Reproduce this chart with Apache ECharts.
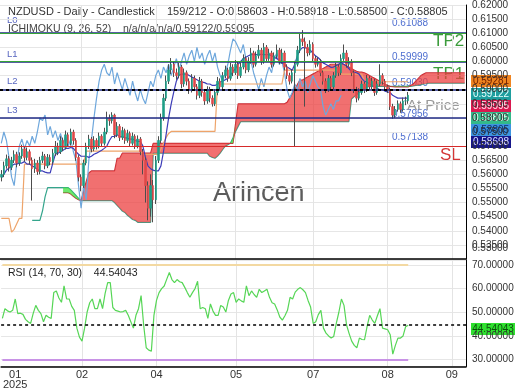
<!DOCTYPE html>
<html><head><meta charset="utf-8">
<script src="https://cdn.jsdelivr.net/npm/echarts@6/dist/echarts.min.js"></script>
<style>html,body{margin:0;padding:0;background:#fff}#c{width:520px;height:390px}</style>
</head><body><div id="c"></div>
<script>
// ---------- DATA (prices in pips: value / 10000) ----------
const SLOTS = 181; // 159 candles + 22 future slots for the shifted cloud
const tickSlots = [5, 31, 60, 91, 121, 150, 175];
const tickLabels = ['01', '02', '04', '05', '07', '08', '09'];
const gridSlots = [31, 60, 91, 121, 150, 175];
const firstOpen = 5590;
const closes = [5600,5630,5655,5625,5650,5670,5640,5665,5690,5660,
5680,5650,5620,5640,5610,5650,5665,5630,5660,5645,
5675,5700,5680,5720,5695,5740,5710,5750,5720,5660,
5590,5560,5640,5700,5725,5690,5720,5700,5735,5710,
5750,5800,5790,5810,5740,5770,5730,5755,5720,5745,
5710,5735,5700,5725,5680,5650,5560,5480,5560,5510,
5650,5720,5800,5870,5930,5970,5990,5960,5950,5980,
5920,5960,5930,5900,5940,5910,5880,5930,5890,5860,
5900,5870,5850,5890,5930,5910,5950,5970,5940,5980,
5960,5990,5950,5980,6010,5970,6000,6030,5990,6020,
6040,6000,6050,6010,6030,5990,6020,6040,6000,6030,
5980,5950,5930,5960,5990,6040,6080,6070,6050,6030,
6060,6010,5990,6000,5960,5930,5900,5940,5910,5950,
5980,5960,6010,6030,5990,6000,5960,5900,5870,5890,
5920,5900,5940,5910,5930,5890,5920,5950,5930,5910,
5900,5840,5810,5830,5850,5830,5860,5860.3,5880.5];
const highs = [5615,5645,5670,5665,5662,5685,5680,5678,5705,5698,
5695,5688,5660,5655,5650,5662,5680,5672,5672,5670,
5690,5718,5712,5735,5730,5755,5748,5762,5758,5728,
5668,5600,5652,5712,5740,5732,5735,5728,5748,5742,
5765,5822,5812,5820,5815,5785,5778,5768,5762,5758,
5752,5748,5742,5738,5732,5690,5660,5575,5600,5580,
5665,5735,5815,5885,5950,5990,6012,6000,5975,5995,
5988,5975,5968,5940,5955,5950,5920,5945,5938,5900,
5912,5910,5880,5902,5945,5940,5962,5985,5978,5995,
5990,6005,5998,5995,6025,6018,6015,6048,6038,6035,
6058,6048,6065,6058,6045,6038,6032,6060,6048,6045,
6038,5990,5960,5972,6002,6055,6098,6111,6085,6062,
6075,6068,6020,6015,6008,5968,5940,5952,5948,5962,
5995,5990,6025,6060,6040,6015,6008,5968,5910,5905,
5932,5928,5952,5948,5942,5938,5932,5990,5958,5938,
5918,5908,5850,5842,5862,5858,5872,5875,5891.8];
const lows = [5575,5590,5620,5610,5615,5640,5625,5630,5655,5645,
5650,5635,5507,5605,5598,5600,5640,5618,5622,5632,
5638,5665,5668,5672,5682,5688,5700,5702,5705,5648,
5575,5540,5552,5632,5690,5678,5682,5688,5692,5698,
5702,5742,5772,5780,5728,5732,5718,5722,5708,5712,
5698,5702,5690,5692,5668,5600,5500,5437,5450,5430,
5495,5640,5710,5790,5860,5920,5955,5945,5935,5940,
5905,5910,5915,5885,5890,5895,5865,5870,5875,5846,
5850,5855,5840,5842,5880,5898,5902,5940,5928,5932,
5948,5952,5938,5942,5972,5958,5962,5992,5978,5982,
6010,5988,5992,5998,6002,5978,5982,6012,5990,5992,
5968,5938,5918,5922,5699,5982,6030,6055,5840,6018,
6022,5998,5978,5982,5948,5918,5888,5892,5898,5902,
5942,5948,5952,6002,5978,5982,5948,5888,5855,5862,
5882,5888,5892,5898,5902,5878,5882,5912,5918,5898,
5888,5828,5797,5800,5822,5818,5822,5845,5850];
const tenkan = [5587,5600,5615,5622,5630,5636,5636,5640,5640,5645,
5636,5636,5630,5625,5618,5612,5612,5608,5605,5605,
5640,5671,5675,5680,5685,5692,5692,5695,5692,5680,
5671,5664,5664,5664,5660,5664,5671,5675,5680,5685,
5692,5700,5720,5734,5734,5740,5734,5734,5730,5728,
5725,5725,5720,5717,5717,5700,5660,5629,5620,5615,
5612,5612,5630,5680,5740,5800,5850,5892,5930,5951,
5955,5955,5955,5950,5945,5940,5935,5930,5927,5925,
5920,5920,5915,5915,5920,5927,5930,5935,5940,5950,
5965,5975,5990,6000,6010,6015,6020,6024,6024,6024,
6025,6025,6024,6024,6024,6020,6015,6010,6005,5995,
5990,5980,5975,5969,5990,6020,6040,6049,6049,6045,
6040,6030,6020,6014,6005,5995,5990,5985,5979,5980,
5985,5990,5995,5990,5985,5975,5965,5962,5960,5955,
5940,5930,5927,5920,5915,5910,5905,5900,5900,5895,
5892,5890,5880,5875,5870,5870,5870,5870,5869.8];
const kijun = [5444,5444,5444,5444,5395,5405,5425,5444,5444,5636,
5636,5636,5636,5636,5636,5636,5636,5636,5636,5636,
5636,5636,5636,5636,5636,5636,5636,5636,5636,5636,
5636,5636,5636,5682,5682,5682,5682,5682,5682,5682,
5682,5682,5682,5682,5682,5682,5682,5682,5682,5682,
5682,5682,5682,5682,5682,5671,5671,5671,5671,5671,
5671,5671,5690,5710,5730,5745,5752,5752,5752,5752,
5752,5752,5752,5752,5752,5752,5752,5752,5752,5752,
5752,5752,5752,5752,5920,5920,5920,5920,5920,5920,
5920,5920,5920,5920,5920,5920,5920,5920,5920,5920,
5920,5920,5920,5920,5920,5920,5920,5920,5920,5920,
5969,5969,5969,5969,5969,5969,5969,5969,5969,5969,
5969,5969,5969,5969,5969,5969,5969,5969,5969,5969,
5969,5969,5955,5955,5955,5955,5955,5955,5955,5955,
5955,5928,5928,5928,5928,5928,5928,5928,5928,5928,
5928,5928,5928,5928,5928,5928,5928,5928,5928.1];
const spanA = [null,null,null,null,null,null,null,null,null,null,
null,null,5437,5437,5437,5437,5470,5520,5553,5553,
5553,5553,5553,5553,5553,5553,5553,5545,5535,5525,
5515,5507,5507,5507,5507,5507,5507,5507,5507,5507,
5507,5507,5507,5507,5500,5490,5480,5470,5465,5455,
5448,5440,5437,5430,5430,5430,5430,5430,5430,5675,
5675,5675,5675,5675,5675,5675,5675,5675,5675,5675,
5675,5675,5675,5675,5675,5675,5675,5675,5675,5675,
5675,5664,5660,5657,5665,5675,5688,5700,5705,5710,
5730,5752,5770,5787,5787,5787,5787,5787,5787,5787,
5787,5787,5787,5787,5787,5787,5787,5787,5787,5787,
5787,5787,5787,5787,5787,5787,5787,5787,5787,5787,
5787,5787,5787,5787,5787,5787,5787,5787,5787,5787,
5787,5787,5787,5787,5787,5787,5867,5875,5882,5890,
5897,5903,5909,5912,5912,5912,5912,5912,5912,5912,
5912,5912,5912,5912,5912,5912,5912,5912,5912.2,5912,
5913,5915,5916,5918,5920,5921,5923,5923,5923,5923,
5923,5923,5923,5923,5923,5923,5923,5923,5923,5923,
5923];
const spanB = [null,null,null,null,null,null,null,null,null,null,
null,null,null,null,null,null,null,null,null,null,
null,null,null,null,5535,5535,5535,5530,5522,5515,
5510,5507,5540,5575,5605,5612,5612,5612,5612,5612,
5612,5612,5612,5612,5612,5657,5657,5675,5675,5675,
5675,5675,5675,5675,5675,5675,5675,5675,5675,5710,
5710,5710,5710,5710,5710,5710,5710,5710,5710,5710,
5710,5710,5710,5710,5710,5710,5710,5710,5710,5710,
5710,5710,5710,5710,5710,5710,5710,5710,5710,5710,
5710,5780,5850,5850,5850,5850,5850,5850,5850,5850,
5850,5850,5850,5850,5850,5850,5850,5850,5850,5850,
5850,5855,5870,5885,5900,5918,5934,5934,5940,5945,
5950,5955,5960,5965,5970,5975,5980,5985,5990,5990,
5990,5990,5990,5990,5985,5980,5975,5970,5965,5962,
5962,5960,5955,5950,5945,5940,5935,5930,5925,5920,
5915,5912,5911,5910,5910,5910,5910,5910,5909.5,5915,
5920,5930,5940,5950,5955,5960,5960,5960,5960,5960,
5960,5960,5960,5960,5960,5960,5960,5960,5960,5960,
5960];
const rsi = [47.4,51.5,50.6,50.1,50.8,55.6,49.4,49.6,49.1,47.0,
46.0,45.3,49.5,52.9,50.8,49.4,46.0,48.7,47.9,47.4,
58.3,59.0,56.0,54.2,61.1,55.6,55.6,52.5,50.8,43.3,
39.5,37.8,43.3,50.1,54.0,55.6,51.5,51.5,55.6,51.5,
58.0,62.5,62.5,52.0,50.8,50.5,50.1,50.3,50.8,48.7,
46.0,43.3,48.7,51.5,57.0,44.6,35.0,34.0,33.6,48.7,
55.0,58.3,60.0,61.1,64.0,66.8,63.8,62.5,63.8,62.9,
62.5,60.5,58.3,56.3,58.3,60.0,63.1,51.5,52.0,51.5,
47.4,53.5,50.5,48.7,48.7,52.9,52.2,50.1,55.0,57.7,
58.3,54.2,55.6,54.8,54.2,61.1,57.0,59.0,57.5,56.3,
59.7,58.3,59.0,59.7,56.3,54.0,53.5,51.0,48.0,46.7,
48.5,50.8,56.3,55.6,58.5,59.7,60.4,59.5,58.3,55.0,
52.2,45.3,46.0,49.0,50.8,43.3,41.2,40.0,39.1,39.8,
45.3,50.0,55.6,52.9,44.6,41.0,37.8,36.0,35.0,39.1,
38.5,38.4,44.0,48.7,46.7,45.3,48.5,51.5,43.3,43.0,
42.6,40.5,32.3,36.0,39.1,39.1,40.0,43.9,44.54043];
const chikouShift = 26;
const levelNames = ['L0', 'L1', 'L2', 'L3'];
const levelValues = [0.61088, 0.59999, 0.5903, 0.57956];
const tpValues = [0.6106, 0.5996];
const slValue = 0.57138;
const tagValues = [0.59281, 0.59122, 0.59095, 0.58805, 0.58805, 0.58698];
const rsiBounds = [70, 30];
const rsiLast = 44.54043;

// ---------- BUILD ----------
const P = v => (v == null ? null : v / 10000);
const N = closes.length;
const cats = []; for (let i = 0; i < SLOTS; i++) cats.push('s' + i);
const tickSet = new Set(tickSlots);
const gridSet = new Set(gridSlots);
const wickData = [], bodyData = [];
for (let i = 0; i < N; i++) {
  const o = i === 0 ? firstOpen : closes[i - 1], c = closes[i];
  wickData.push([P(o), P(c), P(lows[i]), P(highs[i])]);
  bodyData.push([P(o), P(c), P(Math.min(o, c)), P(Math.max(o, c))]);
}
const chikou = [];
for (let i = 0; i < SLOTS; i++) chikou.push(i + chikouShift < N ? P(closes[i + chikouShift]) : null);
const base = [], red = [], green = [];
for (let i = 0; i < SLOTS; i++) {
  const a = spanA[i], b = spanB[i];
  if (a == null || b == null) { base.push(null); red.push(null); green.push(null); continue; }
  base.push(P(Math.min(a, b)));
  red.push(P(Math.max(b - a, 0)));
  green.push(P(Math.max(a - b, 0)));
}
const FONT = 'Liberation Sans, Arial, sans-serif';
const navy = '#1f2a84';
const hl = (v, color, width, type) => ({ yAxis: v, lineStyle: { color: color, width: width, type: type || 'solid' } });
const mainLines = [];
levelValues.forEach(v => mainLines.push(hl(v, navy, 1.5)));
tpValues.forEach(v => mainLines.push(hl(v, '#36a336', 1)));
mainLines.push(hl(slValue, '#d62a2a', 1.2));
tagValues.forEach(v => mainLines.push(hl(v, '#000', 2, [3, 3])));

const lineS = (name, data, color, w, z) => ({
  name, type: 'line', xAxisIndex: 0, yAxisIndex: 0, data, symbol: 'none', z: z || 3,
  lineStyle: { color, width: w }, silent: true
});

const option = {
  animation: false,
  backgroundColor: '#fff',
  grid: [
    { left: 0, right: 54, top: 3, height: 256 },
    { left: 0, right: 54, top: 260, height: 109 }
  ],
  xAxis: [0, 1].map(g => ({
    type: 'category', gridIndex: g, data: cats, boundaryGap: true,
    axisLine: { show: true, lineStyle: { color: '#000', width: 1.5 } },
    axisTick: { show: false },
    axisLabel: g === 0 ? { show: false } : {
      show: true, interval: (idx) => tickSet.has(idx), color: '#333', fontSize: 11, fontFamily: FONT,
      margin: 3, lineHeight: 10,
      formatter: (v, idx) => { const k = tickSlots.indexOf(idx); if (k < 0) return ''; return k === 0 ? tickLabels[k] + '\n2025' : tickLabels[k]; }
    },
    splitLine: { show: true, interval: (idx) => gridSet.has(idx), alignWithLabel: true, lineStyle: { color: '#e4e4e4', width: 1 } }
  })),
  yAxis: [
    { type: 'value', gridIndex: 0, position: 'right', min: 0.53, max: 0.62, interval: 0.005, scale: true,
      axisLine: { show: true, lineStyle: { color: '#000', width: 1 } }, axisTick: { show: false },
      axisLabel: { color: '#333', fontSize: 10, fontFamily: FONT, margin: 6, showMinLabel: false, formatter: v => v.toFixed(5) },
      splitLine: { lineStyle: { color: '#e6e6e6' } } },
    { type: 'value', gridIndex: 1, position: 'right', min: 27.1, max: 72.06, splitNumber: 5,
      axisLine: { show: true, lineStyle: { color: '#000', width: 1 } }, axisTick: { show: false },
      axisLabel: { color: '#333', fontSize: 10, fontFamily: FONT, margin: 6, showMinLabel: false, showMaxLabel: false, formatter: v => v.toFixed(5) },
      splitLine: { lineStyle: { color: '#e6e6e6' } } }
  ],
  series: [
    lineS('Senkou A', spanA.map(P), '#34a58c', 1.2, 1),
    lineS('Senkou B', spanB.map(P), '#c0303a', 1.2, 1),
    { name: 'cloudBase', type: 'line', data: base, stack: 'cloud', symbol: 'none', lineStyle: { opacity: 0 }, z: 2, silent: true },
    { name: 'cloudRed', type: 'line', data: red, stack: 'cloud', symbol: 'none', lineStyle: { opacity: 0 }, z: 2, silent: true,
      areaStyle: { color: 'rgba(236,62,62,0.74)', opacity: 1 } },
    { name: 'cloudGreen', type: 'line', data: green, stack: 'cloud', symbol: 'none', lineStyle: { opacity: 0 }, z: 2, silent: true,
      areaStyle: { color: 'rgba(70,226,70,0.78)', opacity: 1 } },
    lineS('Chikou', chikou, '#6ea7dc', 1.2, 3),
    lineS('Kijun', kijun.map(P), '#eea46a', 1.2, 3),
    lineS('Tenkan', tenkan.map(P), '#3c3cb8', 1.2, 4),
    { name: 'wicks', type: 'candlestick', data: wickData, barWidth: 1, z: 5, silent: true,
      itemStyle: { color: '#4d4d4d', color0: '#4d4d4d', borderColor: '#4d4d4d', borderColor0: '#4d4d4d', borderWidth: 1 } },
    { name: 'bodies', type: 'candlestick', data: bodyData, barWidth: 2, z: 6, silent: true,
      itemStyle: { color: '#1f9e86', color0: '#e04848', borderColor: '#1f9e86', borderColor0: '#e04848', borderWidth: 0.6 },
      markLine: { silent: true, symbol: ['none', 'none'], label: { show: false }, animation: false, z: 7, data: mainLines } },
    { name: 'RSI', type: 'line', xAxisIndex: 1, yAxisIndex: 1, data: rsi, symbol: 'none', z: 4, silent: true,
      lineStyle: { color: '#56d656', width: 1.2 },
      markLine: { silent: true, symbol: ['none', 'none'], label: { show: false }, animation: false,
        data: [
          [{ coord: [0, rsiBounds[0]], lineStyle: { color: '#f3d9a2', width: 2, type: 'solid' } }, { coord: [N - 1, rsiBounds[0]] }],
          [{ coord: [0, rsiBounds[1]], lineStyle: { color: '#c892e6', width: 2, type: 'solid' } }, { coord: [N - 1, rsiBounds[1]] }],
          { yAxis: rsiLast, lineStyle: { color: '#000', width: 1.5, type: [3, 3] } }
        ] } }
  ],
  graphic: (function () {
    const g = [];
    const txt = (x, y, text, size, fill, extra) => g.push(Object.assign({ type: 'text', x, y, silent: true, z: 0,
      style: { text, font: size + 'px ' + FONT, fill } }, extra || {}));
    txt(8, 6, 'NZDUSD - Daily - Candlestick    159/212 - O:0.58603 - H:0.58918 - L:0.58500 - C:0.58805', 11, '#333');
    txt(8, 24, 'ICHIMOKU (9, 26, 52)    n/a/n/a/n/a/0.59122/0.59095', 10.5, '#444');
    [15, 49, 76, 105].forEach((y, i) => txt(7, y, levelNames[i], 9.5, '#5866c0'));
    txt(392, 18, '0.61088', 10, '#4f6fd0');
    txt(392, 52, '0.59999', 10, '#4f6fd0');
    txt(392, 78, '0.59030', 10, '#4f6fd0');
    txt(392, 109, '0.57956', 10, '#4f6fd0');
    txt(392, 132, '0.57138', 10, '#4f6fd0');
    txt(433, 33, 'TP2', 17, '#3b9b3b');
    txt(433, 66, 'TP1', 17, '#3b9b3b');
    txt(440, 147, 'SL', 17, '#d43535');
    txt(407, 98, 'At Price', 15, '#9a9a9a');
    txt(213, 180, 'Arincen', 27, '#5c5c5c');
    txt(472, 243, '0.53000', 10, '#333');
    const tag = (y, w, text, bg, fg) => g.push({ type: 'group', x: 471, y: y, silent: true, children: [
      { type: 'rect', shape: { x: 0, y: 0, width: w, height: 12 }, style: { fill: bg } },
      { type: 'text', x: w / 2, y: 6, style: { text, font: '10px ' + FONT, fill: fg, align: 'center', verticalAlign: 'middle' } }
    ] });
    const tagColors = [['#ef8420', '#6b1d00'], ['#1e9e9e', '#eaffff'], ['#d9184f', '#ffe6ee'],
      ['#33b98a', '#f0fff5'], ['#3d95e0', '#0d2a6a'], ['#16168a', '#e0e0ff']];
    const tagY = [75, 88, 100, 112, 124, 136];
    tagValues.forEach((v, i) => tag(tagY[i], 40, v.toFixed(5), tagColors[i][0], tagColors[i][1]));
    tag(323, 44, rsiLast.toFixed(5), '#2fe02f', '#0b4d0b');
    txt(8, 268, 'RSI (14, 70, 30)    ' + rsiLast.toFixed(5), 10.5, '#222');
    return g;
  })()
};
const chart = echarts.init(document.getElementById('c'), null, { renderer: 'canvas', width: 520, height: 390 });
chart.setOption(option);
</script></body></html>
